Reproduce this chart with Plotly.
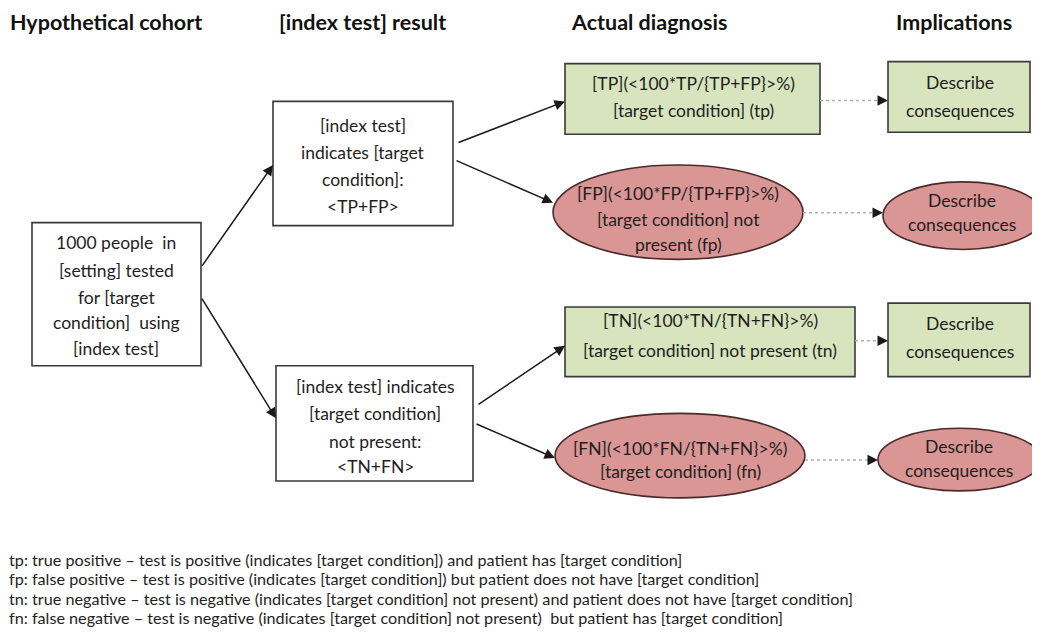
import plotly.graph_objects as go

# ---- content ----
headers = ["Hypothetical cohort", "[index test] result", "Actual diagnosis", "Implications"]

cohort_lines = ["1000 people  in", "[setting] tested", "for [target", "condition]  using", "[index test]"]
pos_lines = ["[index test]", "indicates [target", "condition]:", "<TP+FP>"]
neg_lines = ["[index test] indicates", "[target condition]", "not present:", "<TN+FN>"]
tp_lines = ["[TP](<100*TP/{TP+FP}>%)", "[target condition] (tp)"]
fp_lines = ["[FP](<100*FP/{TP+FP}>%)", "[target condition] not", "present (fp)"]
tn_lines = ["[TN](<100*TN/{TN+FN}>%)", "[target condition] not present (tn)"]
fn_lines = ["[FN](<100*FN/{TN+FN}>%)", "[target condition] (fn)"]
impl_lines = ["Describe", "consequences"]

footnotes = [
    "tp: true positive \u2013 test is positive (indicates [target condition]) and patient has [target condition]",
    "fp: false positive \u2013 test is positive (indicates [target condition]) but patient does not have [target condition]",
    "tn: true negative \u2013 test is negative (indicates [target condition] not present) and patient does not have [target condition]",
    "fn: false negative \u2013 test is negative (indicates [target condition] not present)  but patient has [target condition]",
]

# ---- geometry (reference pixel coordinates, y downward) ----
# The page body has an 8px margin, so the figure is 1024x621 and the
# coordinate ranges are chosen so reference pixels land where they should.
FIG_W, FIG_H = 1024, 621
X_RANGE = [8, 1032]
Y_RANGE = [632, 7]
FONT = "Lato, 'Open Sans', sans-serif"
GREEN = "#d7e4bd"
RED = "#d99694"
EDGE = "#3a3a3a"
RED_EDGE = "#4a2a2a"
TXT = "#1e1e1e"

header_x = [9, 278, 570, 895]
header_y = 21

# nodes: (kind, x0, y0, x1, y1, fill, lines, text_cx, text_ys)
nodes = [
    ("rect", 32, 223, 201, 367, "white", cohort_lines, 116, [243, 271, 298, 324, 350]),
    ("rect", 273, 101, 453, 226, "white", pos_lines, 363, [125, 152, 180, 207]),
    ("rect", 276, 367, 473, 483, "white", neg_lines, 375, [388, 415, 443, 468]),
    ("rect", 565, 63, 820, 134, GREEN, tp_lines, 693, [83, 110]),
    ("rect", 888, 61, 1030, 132, GREEN, impl_lines, 960, [82, 110]),
    ("circle", 553, 165, 803, 260, RED, fp_lines, 678, [194, 220, 245]),
    ("circle", 883, 182, 1043, 250, RED, impl_lines, 962, [201, 225]),
    ("rect", 565, 308, 855, 378, GREEN, tn_lines, 710, [322, 352]),
    ("rect", 888, 304, 1030, 378, GREEN, impl_lines, 960, [325, 353]),
    ("circle", 555, 415, 805, 500, RED, fn_lines, 680, [450, 473]),
    ("circle", 878, 430, 1041, 493, RED, impl_lines, 959, [448, 472]),
]

# solid arrows: (tail_x, tail_y, tip_x, tip_y)
solid_arrows = [
    (201, 268, 273, 165),
    (201, 298, 276, 420),
    (457, 143, 565, 101),
    (455, 160, 553, 203),
    (477, 407, 565, 347),
    (475, 425, 555, 460),
]

# dotted arrows: (tail_x, y, tip_x)
dotted_arrows = [
    (820, 100, 888),
    (803, 213, 883),
    (855, 342, 888),
    (805, 462, 878),
]

footnote_x = 8
footnote_y = [562, 581, 601, 620]

fig = go.Figure()
shapes = []
annotations = []

for kind, x0, y0, x1, y1, fill, lines, cx, ys in nodes:
    edge = RED_EDGE if kind == "circle" else EDGE
    shapes.append(dict(type=kind, xref="x", yref="y", x0=x0, y0=y0, x1=x1, y1=y1,
                       fillcolor=fill, line=dict(color=edge, width=1.6), layer="below"))
    for t, yy in zip(lines, ys):
        annotations.append(dict(x=cx, y=yy, xref="x", yref="y", text=t, showarrow=False,
                                xanchor="center", yanchor="middle",
                                font=dict(family=FONT, size=17.5, color=TXT)))

for tx, ty, hx, hy in solid_arrows:
    annotations.append(dict(x=hx, y=hy, ax=tx, ay=ty, xref="x", yref="y", axref="x", ayref="y",
                            text="", showarrow=True, arrowhead=2, arrowsize=1.4, arrowwidth=1.5,
                            arrowcolor="#1a1a1a", standoff=0, startstandoff=0))

for tx, yy, hx in dotted_arrows:
    shapes.append(dict(type="line", xref="x", yref="y", x0=tx, y0=yy, x1=hx - 10, y1=yy,
                       line=dict(color="#b0b0b0", width=1.5, dash="dot")))
    annotations.append(dict(x=hx, y=yy, ax=hx - 9, ay=yy, xref="x", yref="y", axref="x", ayref="y",
                            text="", showarrow=True, arrowhead=2, arrowsize=1.4, arrowwidth=1.5,
                            arrowcolor="#1a1a1a", standoff=0, startstandoff=0))

for t, hx in zip(headers, header_x):
    annotations.append(dict(x=hx, y=header_y, xref="x", yref="y", text="<b>" + t + "</b>",
                            showarrow=False, xanchor="left", yanchor="middle", borderpad=0,
                            font=dict(family=FONT, size=21.5, color="#111111")))

for t, yy in zip(footnotes, footnote_y):
    annotations.append(dict(x=footnote_x, y=yy, xref="x", yref="y", text=t, showarrow=False,
                            xanchor="left", yanchor="middle", borderpad=0,
                            font=dict(family=FONT, size=16.2, color=TXT)))

fig.update_layout(
    width=FIG_W, height=FIG_H, autosize=False,
    margin=dict(l=0, r=0, t=0, b=0),
    paper_bgcolor="white", plot_bgcolor="white",
    xaxis=dict(range=X_RANGE, visible=False, fixedrange=True),
    yaxis=dict(range=Y_RANGE, visible=False, fixedrange=True),
    shapes=shapes, annotations=annotations, showlegend=False,
)

fig.write_html("out.html")
